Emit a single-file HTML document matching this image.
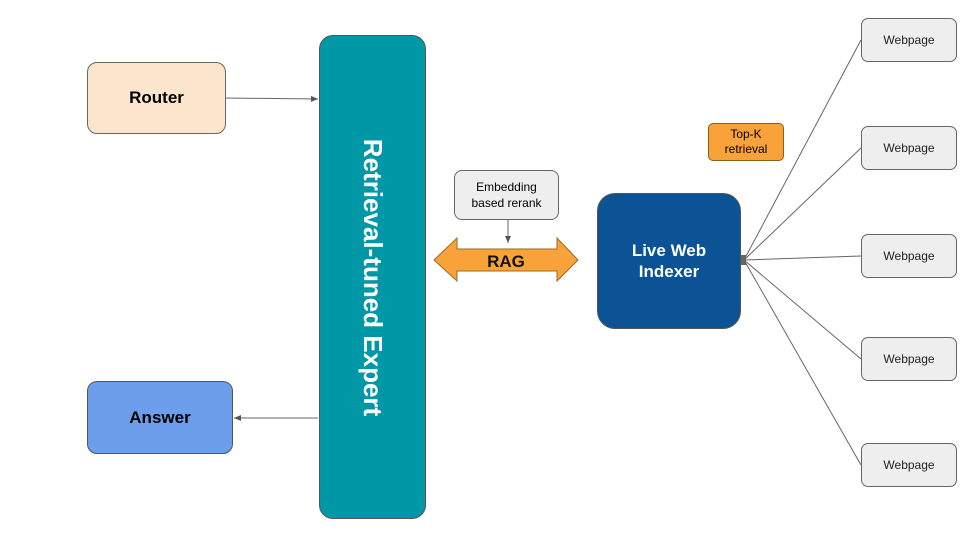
<!DOCTYPE html>
<html><head><style>
body{margin:0;width:960px;height:540px;background:#fff;overflow:hidden;position:relative;font-family:"Liberation Sans",sans-serif}
.b{position:absolute;box-sizing:border-box;display:flex;align-items:center;justify-content:center;text-align:center}
.w{left:861px;width:96px;height:44px;background:#eeeeee;border:1px solid #666;border-radius:7px;font-size:12px;color:#222}
</style></head><body>
<svg width="960" height="540" style="position:absolute;left:0;top:0">
<defs><marker id="a" markerWidth="8" markerHeight="8" refX="7" refY="4" orient="auto" markerUnits="userSpaceOnUse"><path d="M0,1 L7,4 L0,7z" fill="#555"/></marker></defs>
<g stroke="#666" stroke-width="1" fill="none">
<line x1="226" y1="98" x2="318" y2="99" marker-end="url(#a)"/>
<line x1="318" y1="418" x2="234" y2="418" marker-end="url(#a)"/>
<line x1="508" y1="219" x2="508" y2="243" marker-end="url(#a)"/>
<line x1="744" y1="260" x2="861" y2="40"/>
<line x1="744" y1="260" x2="861" y2="148"/>
<line x1="744" y1="260" x2="861" y2="256"/>
<line x1="744" y1="260" x2="861" y2="359"/>
<line x1="744" y1="260" x2="861" y2="465"/>
</g>
<rect x="740" y="255" width="6" height="10" fill="#666"/>
<path d="M434,260 L457,238 L457,249 L557,249 L557,238 L578,260 L557,281 L557,271 L457,271 L457,281 Z" fill="#f9a23a" stroke="#9a6a20" stroke-width="1"/>
<text x="506" y="267" text-anchor="middle" font-family="Liberation Sans" font-weight="bold" font-size="17" fill="#111">RAG</text>
</svg>
<div class="b" style="left:87px;top:62px;width:139px;height:72px;background:#fce5cd;border:1px solid #666;border-radius:10px;font-weight:bold;font-size:17px">Router</div>
<div class="b" style="left:87px;top:381px;width:146px;height:73px;background:#6d9eeb;border:1px solid #555;border-radius:10px;font-weight:bold;font-size:17px">Answer</div>
<div class="b" style="left:319px;top:35px;width:107px;height:484px;background:#0097a7;border:1px solid #555;border-radius:14px">
<div style="transform:rotate(90deg);white-space:nowrap;color:#fff;font-weight:bold;font-size:26px">Retrieval-tuned Expert</div></div>
<div class="b" style="left:454px;top:170px;width:105px;height:50px;background:#eeeeee;border:1px solid #666;border-radius:8px;font-size:12px;line-height:16px">Embedding<br>based rerank</div>
<div class="b" style="left:597px;top:193px;width:144px;height:136px;background:#0b5394;border:1px solid #555;border-radius:18px;color:#fff;font-weight:bold;font-size:17px;line-height:21px">Live Web<br>Indexer</div>
<div class="b" style="left:708px;top:123px;width:76px;height:38px;background:#f9a23a;border:1px solid #8a6020;border-radius:5px;font-size:12px;line-height:15px">Top-K<br>retrieval</div>
<div class="b w" style="top:18px">Webpage</div>
<div class="b w" style="top:126px">Webpage</div>
<div class="b w" style="top:234px">Webpage</div>
<div class="b w" style="top:337px">Webpage</div>
<div class="b w" style="top:443px">Webpage</div>
</body></html>
